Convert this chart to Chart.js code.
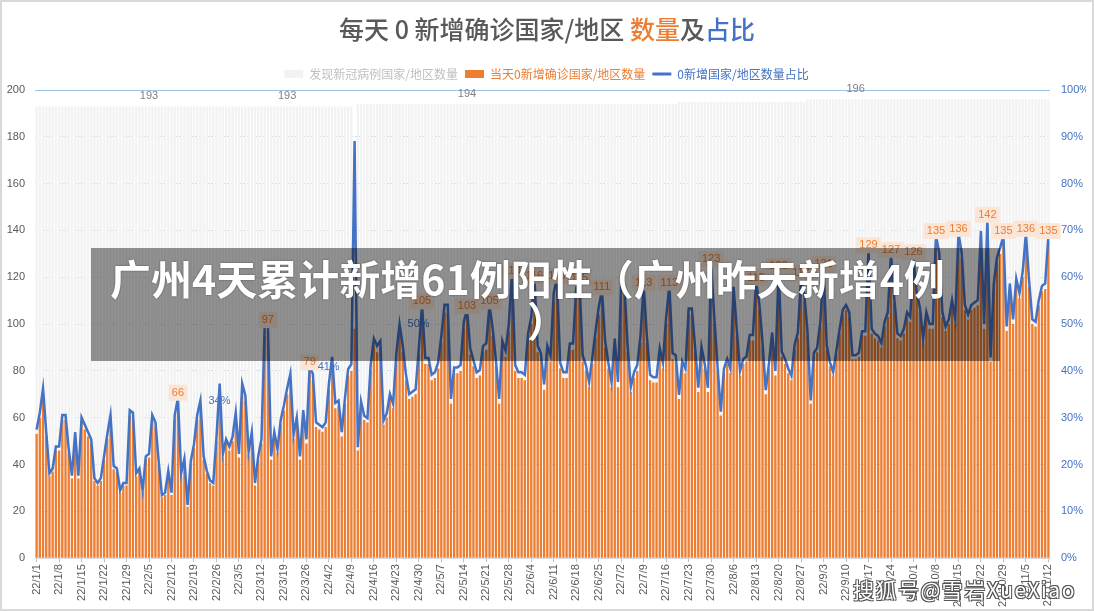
<!DOCTYPE html>
<html>
<head>
<meta charset="utf-8">
<script src="https://cdn.jsdelivr.net/npm/chart.js@4.4.1/dist/chart.umd.min.js"></script>
<style>
  html, body { margin: 0; padding: 0; background: #fff; }
  #wrap { position: relative; width: 1094px; height: 611px; overflow: hidden; }
  #frame { position: absolute; left: 0; top: 0; width: 1094px; height: 611px; box-sizing: border-box;
           border: 2px solid #d9d9d9; pointer-events: none; }
  #title { position: absolute; left: 0; top: 11px; width: 1094px; text-align: center;
           font: 500 25px/34px "Noto Sans CJK SC", sans-serif; color: #595959; }
  #banner { position: absolute; left: 91px; top: 248px; width: 909px; height: 113px; box-sizing: border-box;
            padding: 8px 36px 0 0; background: rgba(0,0,0,0.42); color: #fff; text-align: center;
            font: bold 41px/42px "Noto Sans CJK SC", sans-serif; text-shadow: 0 0 2px rgba(0,0,0,.5); }
  #banner span { position: relative; left: 20px; }
  #mark { position: absolute; left: 853px; top: 577px; white-space: nowrap; letter-spacing: 1.5px;
          font: 21px/24px "Noto Sans CJK SC", sans-serif; color: #fff;
          text-shadow: -1px -1px 0 #555, 1px -1px 0 #555, -1px 1px 0 #555, 1px 1px 0 #555; }
</style>
</head>
<body>
<div id="wrap">
  <canvas id="chart" width="1094" height="611"></canvas>
  <div id="title">每天 0 新增确诊国家/地区 <span style="color:#ED7D31">数量</span>及<span style="color:#4472C4">占比</span></div>
  <div id="banner">广州4天累计新增61例阳性（广州昨天新增4例<br><span>）</span></div>
  <div id="mark">搜狐号@雪岩XueXiao</div>
  <div id="frame"></div>
</div>
<script>
// 每天 0 新增确诊的国家/地区数量（22/1/1 起逐日）
const zeroCount = [
  53,60,70,52,35,37,46,46,59,59,45,34,52,34,
  58,55,52,49,33,31,33,42,51,59,38,37,28,31,
  31,61,60,35,37,28,42,43,59,56,40,26,27,36,
  27,59,66,35,41,22,40,47,59,65,42,36,32,31,
  50,72,43,49,46,50,60,43,72,67,44,52,31,42,
  49,95,97,42,52,45,57,63,70,76,51,58,42,61,
  49,79,76,56,55,54,56,72,83,64,65,52,66,78,
  80,98,46,65,59,58,80,91,88,90,57,60,68,64,
  85,97,88,76,68,69,70,87,105,83,83,76,77,81,
  92,105,105,66,79,79,80,98,103,87,82,77,78,88,
  89,105,95,82,66,90,86,97,118,80,77,77,76,93,
  100,116,88,85,72,88,84,110,116,81,77,77,89,89,
  112,115,84,80,73,83,94,104,111,90,81,73,91,73,
  115,113,88,71,77,80,92,113,92,76,75,75,87,81,
  100,113,85,84,68,82,79,104,104,88,71,88,81,71,
  123,100,80,61,79,83,79,113,95,78,83,84,93,93,
  115,106,90,70,81,94,78,120,86,83,79,76,89,94,
  117,110,95,66,86,88,99,121,89,82,78,87,96,104,
  106,103,85,85,86,95,95,129,96,94,93,90,99,103,
  127,109,94,93,96,103,101,126,111,105,92,103,98,98,
  135,128,103,97,100,108,100,136,128,106,102,106,107,108,
  137,98,142,84,115,126,130,135,97,115,100,117,111,120,
  136,116,100,99,108,114,115,135
];

// 发现新冠病例的国家/地区数量
const foundCount = [
  193,193,193,193,193,193,193,193,193,193,193,193,193,193,193,193,193,193,193,193,
  193,193,193,193,193,193,193,193,193,193,193,193,193,193,193,193,193,193,193,193,
  193,193,193,193,193,193,193,193,193,193,193,193,193,193,193,193,193,193,193,193,
  193,193,193,193,193,193,193,193,193,193,193,193,193,193,193,193,193,193,193,193,
  193,193,193,193,193,193,193,193,193,193,193,193,193,193,193,193,193,193,193,110,
  194,194,194,194,194,194,194,194,194,194,194,194,194,194,194,194,194,194,194,194,
  194,194,194,194,194,194,194,194,194,194,194,194,194,194,194,194,194,194,194,194,
  194,194,194,194,194,194,194,194,194,194,194,194,194,194,194,194,194,194,194,194,
  194,194,194,194,194,194,194,194,194,194,194,194,194,194,194,194,194,194,194,194,
  194,194,194,194,194,194,194,194,194,194,194,194,194,194,194,194,194,194,194,194,
  195,195,195,195,195,195,195,195,195,195,195,195,195,195,195,195,195,195,195,195,
  195,195,195,195,195,195,195,195,195,195,195,195,195,195,195,195,195,195,195,195,
  196,196,196,196,196,196,196,196,196,196,196,196,196,196,196,196,196,196,196,196,
  196,196,196,196,196,196,196,196,196,196,196,196,196,196,196,196,196,196,196,196,
  196,196,196,196,196,196,196,196,196,196,196,196,196,196,196,196,196,196,196,196,
  196,196,196,196,196,196,196,196,196,196,196,196,196,196,196,196
];

// 带数据标签的日期序号
const foundLabelDays = [35, 78, 134, 255];
const zeroLabelDays = [44, 72, 85, 120, 134, 141, 148, 155, 162, 169, 176, 189, 197, 210,
                       224, 231, 238, 245, 259, 266, 273, 280, 287, 296, 301, 308, 315];
const shareLabelDays = [51, 85, 113];

// 日期标签 yy/m/d
const dayLabels = [];
for (let i = 0; i < zeroCount.length; i++) {
  const d = new Date(2022, 0, 1 + i);
  dayLabels.push(`${d.getFullYear() % 100}/${d.getMonth() + 1}/${d.getDate()}`);
}
// 占比 = 0新增数量 / 发现病例数量
const zeroShare = zeroCount.map((v, i) => v / foundCount[i] * 100);

const CJK = '"Noto Sans CJK SC", "Liberation Sans", sans-serif';
const LAT = '"Liberation Sans", Arial, sans-serif';
const ORANGE = '#ED7D31', BLUE = '#4472C4', GREY_BAR = '#F2F2F2';

// 数据标签 + 顶部实线
const labelPlugin = {
  id: 'dataLabels',
  beforeDatasetsDraw(chart) {
    const { ctx, chartArea, scales: { y } } = chart;
    const py = Math.round(y.getPixelForValue(200)) + 0.5;
    ctx.save();
    ctx.strokeStyle = '#9DC3E6';
    ctx.lineWidth = 1;
    ctx.beginPath();
    ctx.moveTo(chartArea.left, py);
    ctx.lineTo(chartArea.right, py);
    ctx.stroke();
    ctx.restore();
  },
  afterDatasetsDraw(chart) {
    const { ctx, scales: { x, y, y1 } } = chart;
    ctx.save();
    ctx.font = '11px ' + LAT;
    ctx.textAlign = 'center';
    ctx.textBaseline = 'middle';

    foundLabelDays.forEach(i => {
      ctx.fillStyle = '#7F7F7F';
      ctx.fillText(String(foundCount[i]), x.getPixelForValue(i), y.getPixelForValue(foundCount[i]) - 10);
    });

    zeroLabelDays.forEach(i => {
      const t = String(zeroCount[i]);
      const px = x.getPixelForValue(i);
      const py = y.getPixelForValue(zeroCount[i]) - 11;
      const w = ctx.measureText(t).width + 6;
      ctx.fillStyle = '#FBE5D6';
      ctx.fillRect(px - w / 2, py - 8, w, 16);
      ctx.fillStyle = ORANGE;
      ctx.fillText(t, px, py);
    });

    ctx.textAlign = 'left';
    shareLabelDays.forEach(i => {
      ctx.fillStyle = BLUE;
      ctx.fillText(Math.round(zeroShare[i]) + '%', x.getPixelForValue(i) + 8, y1.getPixelForValue(zeroShare[i]));
    });
    ctx.restore();
  }
};

new Chart(document.getElementById('chart'), {
  data: {
    labels: dayLabels,
    datasets: [
      {
        type: 'line', label: '0新增国家/地区数量占比', data: zeroShare, yAxisID: 'y1',
        borderColor: BLUE, backgroundColor: BLUE, borderWidth: 2.5, pointRadius: 0, tension: 0, order: 1
      },
      {
        type: 'bar', label: '当天0新增确诊国家/地区数量', data: zeroCount, yAxisID: 'y',
        backgroundColor: ORANGE, grouped: false, barPercentage: 0.72, categoryPercentage: 1, order: 2
      },
      {
        type: 'bar', label: '发现新冠病例国家/地区数量', data: foundCount, yAxisID: 'y',
        backgroundColor: GREY_BAR, grouped: false, barPercentage: 0.72, categoryPercentage: 1, order: 3
      }
    ]
  },
  options: {
    responsive: false,
    animation: false,
    devicePixelRatio: 1,
    layout: { padding: { top: 61, left: 7, right: 8, bottom: 2 } },
    plugins: {
      tooltip: { enabled: false },
      legend: {
        position: 'top',
        labels: {
          usePointStyle: true,
          pointStyleWidth: 19,
          boxHeight: 8,
          padding: 7,
          font: { size: 12, family: CJK },
          generateLabels: () => [
            { text: '发现新冠病例国家/地区数量', fillStyle: GREY_BAR, strokeStyle: GREY_BAR, lineWidth: 0,
              pointStyle: 'rect', fontColor: '#BFBFBF', datasetIndex: 2, hidden: false },
            { text: '当天0新增确诊国家/地区数量', fillStyle: ORANGE, strokeStyle: ORANGE, lineWidth: 0,
              pointStyle: 'rect', fontColor: ORANGE, datasetIndex: 1, hidden: false },
            { text: '0新增国家/地区数量占比', fillStyle: BLUE, strokeStyle: BLUE, lineWidth: 3,
              pointStyle: 'line', fontColor: BLUE, datasetIndex: 0, hidden: false }
          ]
        }
      }
    },
    scales: {
      x: {
        ticks: {
          autoSkip: false, maxRotation: 90, minRotation: 90, padding: 2,
          color: '#595959', font: { size: 11, family: LAT },
          callback(v, i) { return i % 7 === 0 ? this.getLabelForValue(v) : null; }
        },
        grid: { drawOnChartArea: false, offset: false, tickLength: 4, color: '#BFBFBF' },
        border: { color: '#D9D9D9' },
        afterFit(scale) { scale.paddingLeft = 0; scale.paddingRight = 0; }
      },
      y: {
        position: 'left', min: 0, max: 200,
        ticks: { stepSize: 20, padding: 10, color: '#595959', font: { size: 11, family: LAT } },
        grid: { color: '#BDD7EE', drawTicks: false },
        border: { display: false, dash: [2, 2] },
        // 轴宽 = 标签宽 + 一份间距（默认会留两份）
        afterFit(scale) { scale.width = 28; }
      },
      y1: {
        position: 'right', min: 0, max: 100,
        ticks: { stepSize: 10, padding: 11, color: BLUE, font: { size: 11, family: LAT }, callback: v => v + '%' },
        grid: { display: false, drawTicks: false },
        border: { display: false },
        afterFit(scale) { scale.width = 36; }
      }
    }
  },
  plugins: [labelPlugin]
});
</script>
</body>
</html>
